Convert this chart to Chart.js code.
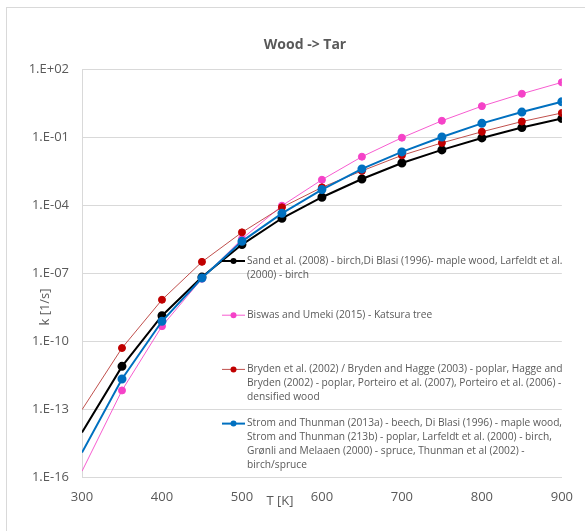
<!DOCTYPE html>
<html>
<head>
<meta charset="utf-8">
<script src="https://cdn.jsdelivr.net/npm/chart.js@4.4.0/dist/chart.umd.min.js"></script>
<style>
  html, body { margin: 0; padding: 0; background: #fff; }
  #wrap { width: 585px; height: 531px; position: relative; }
</style>
</head>
<body>
<div id="wrap"><canvas id="chart" width="585" height="531"></canvas></div>
<script>
// temperatures [K]
const temps = [300, 350, 400, 450, 500, 550, 600, 650, 700, 750, 800, 850, 900];

// rate constants k [1/s]
const sandK    = [9.3e-15, 7.6e-12, 1.3e-9, 6.6e-8, 1.8e-6, 2.6e-5, 2.2e-4, 1.4e-3, 7.1e-3, 2.7e-2, 9.1e-2, 0.26, 0.65];
const biswasK  = [1.8e-16, 6.6e-13, 4.5e-10, 5.6e-8, 3.2e-6, 9.3e-5, 1.3e-3, 1.35e-2, 9.3e-2, 0.52, 2.3, 8.1, 25.7];
const brydenK  = [9.3e-14, 4.9e-11, 6.6e-9, 3.1e-7, 6.2e-6, 7.9e-5, 6.0e-4, 3.2e-3, 1.55e-2, 5.5e-2, 0.17, 0.48, 1.15];
const stromK   = [1.2e-15, 2.1e-12, 7.4e-10, 6.0e-8, 2.5e-6, 4.3e-5, 4.8e-4, 3.9e-3, 2.2e-2, 0.10, 0.40, 1.26, 3.6];

const legendLines = [
  ['Sand et al. (2008) - birch,Di Blasi (1996)- maple wood, Larfeldt et al.', '(2000) - birch'],
  ['Biswas and Umeki (2015) - Katsura tree'],
  ['Bryden et al. (2002) / Bryden and Hagge (2003) - poplar, Hagge and', 'Bryden (2002) - poplar, Porteiro et al. (2007), Porteiro et al. (2006) -', 'densified wood'],
  ['Strom and Thunman (2013a) - beech, Di Blasi (1996) - maple wood,', 'Strom and Thunman (213b) - poplar, Larfeldt et al. (2000) - birch,', 'Grønli and Melaaen (2000) - spruce, Thunman et al (2002) -', 'birch/spruce']
];

const yTicks = [1e-16, 1e-13, 1e-10, 1e-7, 1e-4, 1e-1, 1e2];
const yTickLabels = ['1.E-16', '1.E-13', '1.E-10', '1.E-07', '1.E-04', '1.E-01', '1.E+02'];
const xTicks = [300, 400, 500, 600, 700, 800, 900];

const chartTitle = 'Wood -> Tar';
const xTitle = 'T [K]';
const yTitle = 'k [1/s]';

const textGray = '#595959';
const FONT = '"Open Sans", sans-serif';

function pts(arr) {
  return temps.map((t, i) => ({ x: t, y: arr[i] }));
}

function series(label, arr, line, marker, width, order) {
  return {
    label: label,
    data: pts(arr),
    borderColor: line,
    backgroundColor: marker,
    pointBackgroundColor: marker,
    pointBorderColor: marker,
    borderWidth: width,
    pointRadius: c => c.dataIndex === 0 ? 0 : 3.5,
    pointHoverRadius: 3.5,
    tension: 0,
    order: order
  };
}

// title, axis titles, frame and the wrapped legend
const overlay = {
  id: 'overlay',
  beforeDraw(chart) {
    const ctx = chart.ctx;
    ctx.save();
    ctx.fillStyle = '#fff';
    ctx.fillRect(0, 0, chart.width, chart.height);
    ctx.strokeStyle = '#d9d9d9';
    ctx.lineWidth = 1;
    ctx.strokeRect(6.5, 7.5, 600, 600);
    ctx.restore();
  },
  afterDraw(chart) {
    const ctx = chart.ctx;
    ctx.save();
    ctx.fillStyle = textGray;
    ctx.textAlign = 'center';
    ctx.textBaseline = 'middle';
    ctx.font = 'bold 14px ' + FONT;
    ctx.fillText(chartTitle, 305, 45);
    ctx.font = '13px ' + FONT;
    ctx.fillText(xTitle, 280, 501);
    ctx.save();
    ctx.translate(45, 307);
    ctx.rotate(-Math.PI / 2);
    ctx.fillText(yTitle, 0, 0);
    ctx.restore();

    // legend in the plot, evenly spaced slots
    const ds = chart.data.datasets;
    ctx.textAlign = 'left';
    ctx.font = '10.2px ' + FONT;
    ds.forEach((d, i) => {
      const y0 = 261 + 54.2 * i;
      ctx.strokeStyle = d.borderColor;
      ctx.lineWidth = d.borderWidth;
      ctx.beginPath();
      ctx.moveTo(222, y0);
      ctx.lineTo(245, y0);
      ctx.stroke();
      ctx.fillStyle = d.pointBackgroundColor;
      ctx.beginPath();
      ctx.arc(233.5, y0, 3, 0, Math.PI * 2);
      ctx.fill();
      ctx.fillStyle = textGray;
      legendLines[i].forEach((ln, j) => ctx.fillText(ln, 247, y0 + j * 13.8));
    });
    ctx.restore();
  }
};

const chart = new Chart(document.getElementById('chart'), {
  type: 'line',
  data: {
    datasets: [
      series(legendLines[0].join(' '), sandK, '#000000', '#000000', 2, 4),
      series(legendLines[1].join(' '), biswasK, '#f75cd0', '#f542c8', 1, 3),
      series(legendLines[2].join(' '), brydenK, '#c0504d', '#c00000', 1, 2),
      series(legendLines[3].join(' '), stromK, '#0070c0', '#0070c0', 2, 1)
    ]
  },
  options: {
    responsive: false,
    animation: false,
    layout: { padding: { left: 0, right: 23, top: 69, bottom: 0 } },
    plugins: {
      legend: { display: false },
      tooltip: { enabled: false },
      title: { display: false }
    },
    scales: {
      x: {
        type: 'linear',
        min: 300,
        max: 900,
        afterFit: s => { s.height = 54; },
        afterBuildTicks: s => { s.ticks = xTicks.map(v => ({ value: v })); },
        grid: { display: false, drawTicks: false },
        border: { display: true, color: '#d9d9d9', width: 1 },
        ticks: { color: textGray, font: { family: FONT, size: 13 }, padding: 12, maxRotation: 0 }
      },
      y: {
        type: 'logarithmic',
        min: 1e-16,
        max: 1e2,
        afterFit: s => { s.width = 82; },
        afterBuildTicks: s => { s.ticks = yTicks.map(v => ({ value: v })); },
        grid: { color: '#d9d9d9', drawTicks: false },
        border: { display: true, color: '#d9d9d9', width: 1 },
        ticks: {
          color: textGray,
          font: { family: FONT, size: 13 },
          padding: 13,
          callback: (v, i) => yTickLabels[i]
        }
      }
    }
  },
  plugins: [overlay]
});
</script>
</body>
</html>
